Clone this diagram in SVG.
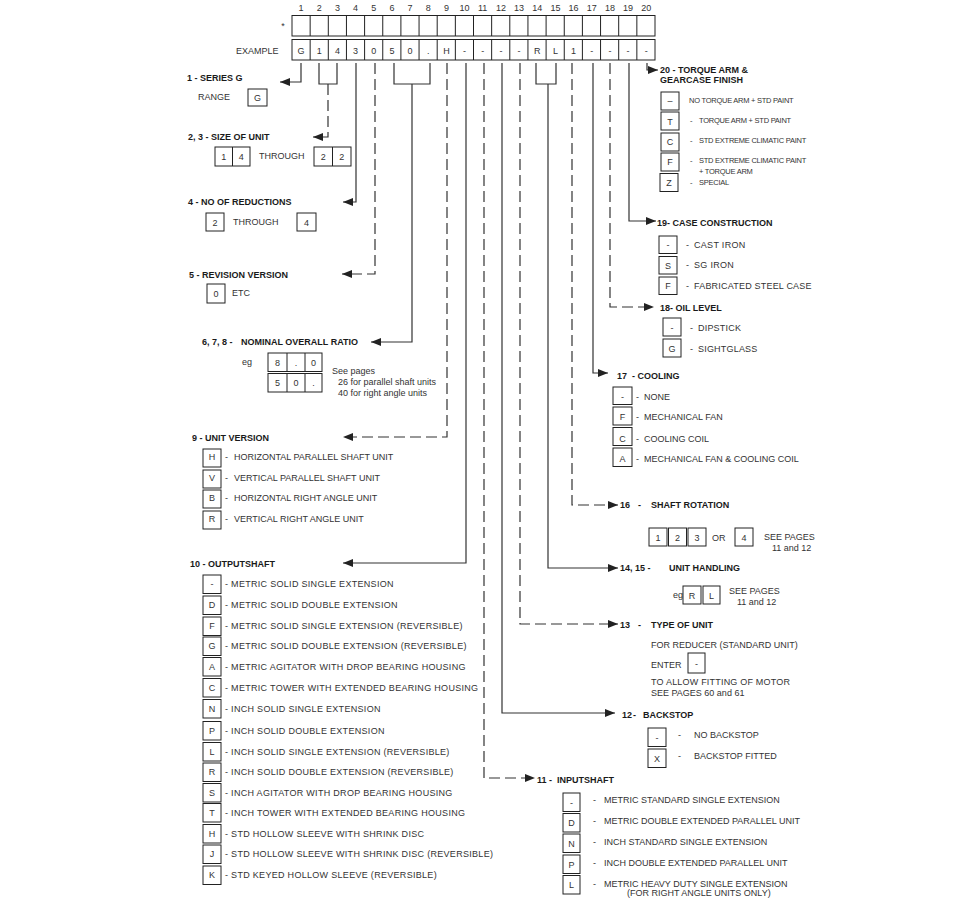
<svg xmlns="http://www.w3.org/2000/svg" width="960" height="908" viewBox="0 0 960 908">
<defs>
<marker id="ah" markerWidth="10" markerHeight="8" refX="10" refY="4" orient="auto" markerUnits="userSpaceOnUse"><path d="M0,0 L10,4 L0,8 z" fill="#222"/></marker>
<style>
text{font-family:"Liberation Sans",Arial,sans-serif;font-size:9px;fill:#333}
.h{font-weight:bold;fill:#1a1a1a}
.c{text-anchor:middle}
.sm{font-size:7.5px;letter-spacing:-0.25px}
.w{letter-spacing:0.3px}
.w2{letter-spacing:0.2px}
.bx{fill:none;stroke:#222;stroke-width:1}
.ln{fill:none;stroke:#333;stroke-width:1.2}
.d{stroke-dasharray:11 5}
.ar{marker-end:url(#ah)}
</style>
</defs>
<rect width="960" height="908" fill="#fff"/>

<g id="header">
<g class="c">
<text x="301" y="11">1</text><text x="319.2" y="11">2</text><text x="337.4" y="11">3</text><text x="355.5" y="11">4</text><text x="373.7" y="11">5</text><text x="391.9" y="11">6</text><text x="410" y="11">7</text><text x="428.2" y="11">8</text><text x="446.4" y="11">9</text><text x="464.5" y="11">10</text><text x="482.7" y="11">11</text><text x="500.9" y="11">12</text><text x="519" y="11">13</text><text x="537.2" y="11">14</text><text x="555.4" y="11">15</text><text x="573.5" y="11">16</text><text x="591.7" y="11">17</text><text x="609.9" y="11">18</text><text x="628" y="11">19</text><text x="646.2" y="11">20</text>
</g>
<text x="283" y="29" class="c">*</text>
<text x="236" y="53.5">EXAMPLE</text>
<rect class="bx" x="292" y="15.5" width="363" height="20.5"/>
<rect class="bx" x="292" y="39.5" width="363" height="20.5"/>
<path class="bx" d="M310.15,15.5V36M328.3,15.5V36M346.45,15.5V36M364.6,15.5V36M382.75,15.5V36M400.9,15.5V36M419.05,15.5V36M437.2,15.5V36M455.35,15.5V36M473.5,15.5V36M491.65,15.5V36M509.8,15.5V36M527.95,15.5V36M546.1,15.5V36M564.25,15.5V36M582.4,15.5V36M600.55,15.5V36M618.7,15.5V36M636.85,15.5V36"/>
<path class="bx" d="M310.15,39.5V60M328.3,39.5V60M346.45,39.5V60M364.6,39.5V60M382.75,39.5V60M400.9,39.5V60M419.05,39.5V60M437.2,39.5V60M455.35,39.5V60M473.5,39.5V60M491.65,39.5V60M509.8,39.5V60M527.95,39.5V60M546.1,39.5V60M564.25,39.5V60M582.4,39.5V60M600.55,39.5V60M618.7,39.5V60M636.85,39.5V60"/>
<g class="c">
<text x="301" y="53.5">G</text><text x="319.2" y="53.5">1</text><text x="337.4" y="53.5">4</text><text x="355.5" y="53.5">3</text><text x="373.7" y="53.5">0</text><text x="391.9" y="53.5">5</text><text x="410" y="53.5">0</text><text x="428.2" y="53.5">.</text><text x="446.4" y="53.5">H</text><text x="464.5" y="53.5">-</text><text x="482.7" y="53.5">-</text><text x="500.9" y="53.5">-</text><text x="519" y="53.5">-</text><text x="537.2" y="53.5">R</text><text x="555.4" y="53.5">L</text><text x="573.5" y="53.5">1</text><text x="591.7" y="53.5">-</text><text x="609.9" y="53.5">-</text><text x="628" y="53.5">-</text><text x="646.2" y="53.5">-</text>
</g>
</g>

<g id="connectors">
<polyline class="ln ar" points="301,63 301,82 280,82"/>
<polyline class="ln" points="319,63 319,84 337,84 337,63"/>
<polyline class="ln d ar" points="328,84 328,137 313,137"/>
<polyline class="ln ar" points="356,63 356,202 343,202"/>
<polyline class="ln d ar" points="375,63 375,274 342,274"/>
<polyline class="ln" points="394,63 394,84 430,84 430,63"/>
<polyline class="ln ar" points="412,84 412,342 371,342"/>
<polyline class="ln d ar" points="447,63 447,437 343,437"/>
<polyline class="ln ar" points="466,63 466,563 343,563"/>
<polyline class="ln d ar" points="484,63 484,778 535,778"/>
<polyline class="ln ar" points="502,63 502,713 615,713"/>
<polyline class="ln d ar" points="520,63 520,624 618,624"/>
<polyline class="ln" points="536,63 536,84 556,84 556,63"/>
<polyline class="ln ar" points="548,84 548,568 618,568"/>
<polyline class="ln d ar" points="572,63 572,505 618,505"/>
<polyline class="ln ar" points="593,63 593,373 608,373"/>
<polyline class="ln d ar" points="610,63 610,307 654,307"/>
<polyline class="ln ar" points="629,63 629,221 656,221"/>
<polyline class="ln ar" points="647,63 647,70 658,70"/>
</g>

<g id="n1">
<text class="h" x="187" y="80.5">1 - SERIES G</text>
<text x="198" y="99.5">RANGE</text>
<rect class="bx" x="248" y="89" width="19" height="17"/>
<text class="c" x="257.5" y="100.5">G</text>
</g>

<g id="n2">
<text class="h" x="188" y="140">2, 3 - SIZE OF UNIT</text>
<rect class="bx" x="215" y="147" width="35" height="19"/><path class="bx" d="M232.5,147V166"/>
<text class="c" x="223.7" y="159.5">1</text><text class="c" x="241.2" y="159.5">4</text>
<text x="259" y="159">THROUGH</text>
<rect class="bx" x="314" y="147" width="37" height="19"/><path class="bx" d="M332.5,147V166"/>
<text class="c" x="323.2" y="159.5">2</text><text class="c" x="341.7" y="159.5">2</text>
</g>

<g id="n4">
<text class="h" x="188" y="204.5">4 - NO OF REDUCTIONS</text>
<rect class="bx" x="206" y="213" width="18" height="18"/><text class="c" x="215" y="225.5">2</text>
<text x="233" y="225">THROUGH</text>
<rect class="bx" x="297" y="213" width="19" height="18"/><text class="c" x="306.5" y="225.5">4</text>
</g>

<g id="n5">
<text class="h" x="189" y="277.5">5 - REVISION VERSION</text>
<rect class="bx" x="207" y="284" width="18" height="19"/><text class="c" x="216" y="296.5">0</text>
<text x="232" y="296">ETC</text>
</g>

<g id="n6">
<text class="h" x="202" y="344.5">6, 7, 8 -</text>
<text class="h" x="241" y="344.5">NOMINAL OVERALL RATIO</text>
<text x="242" y="365">eg</text>
<rect class="bx" x="268" y="353" width="54" height="18.5"/>
<rect class="bx" x="268" y="373.5" width="54" height="18.5"/>
<path class="bx" d="M287,353V371.5M305,353V371.5M287,373.5V392M305,373.5V392"/>
<text class="c" x="277.5" y="365.5">8</text><text class="c" x="296" y="365.5">.</text><text class="c" x="313.5" y="365.5">0</text>
<text class="c" x="277.5" y="386">5</text><text class="c" x="296" y="386">0</text><text class="c" x="313.5" y="386">.</text>
<text x="332" y="373.5">See pages</text>
<text x="338" y="384.5">26 for parallel shaft units</text>
<text x="338" y="396">40 for right angle units</text>
</g>

<g id="n9">
<text class="h" x="192" y="441">9 - UNIT VERSION</text>
<rect class="bx" x="203" y="449" width="18" height="18"/><text class="c" x="212" y="459.5">H</text><text x="225" y="459.5">-</text><text x="234" y="459.5">HORIZONTAL PARALLEL SHAFT UNIT</text>
<rect class="bx" x="203" y="470" width="18" height="18"/><text class="c" x="212" y="480.5">V</text><text x="225" y="480.5">-</text><text x="234" y="480.5">VERTICAL PARALLEL SHAFT UNIT</text>
<rect class="bx" x="203" y="490" width="18" height="18"/><text class="c" x="212" y="501">B</text><text x="225" y="501">-</text><text x="234" y="501">HORIZONTAL RIGHT ANGLE UNIT</text>
<rect class="bx" x="203" y="511" width="18" height="18"/><text class="c" x="212" y="521.5">R</text><text x="225" y="521.5">-</text><text x="234" y="521.5">VERTICAL RIGHT ANGLE UNIT</text>
</g>

<g id="n10">
<text class="h" x="190" y="566.7">10 - OUTPUTSHAFT</text>
<rect class="bx" x="203" y="575" width="18" height="18.5"/><text class="c" x="212" y="587.3">-</text><text class="w" x="225" y="587.3">- METRIC SOLID SINGLE EXTENSION</text>
<rect class="bx" x="203" y="596" width="18" height="18.5"/><text class="c" x="212" y="608.3">D</text><text class="w" x="225" y="608.3">- METRIC SOLID DOUBLE EXTENSION</text>
<rect class="bx" x="203" y="617" width="18" height="18.5"/><text class="c" x="212" y="629.3">F</text><text class="w" x="225" y="629.3">- METRIC SOLID SINGLE EXTENSION (REVERSIBLE)</text>
<rect class="bx" x="203" y="637" width="18" height="18.5"/><text class="c" x="212" y="649.3">G</text><text class="w" x="225" y="649.3">- METRIC SOLID DOUBLE EXTENSION (REVERSIBLE)</text>
<rect class="bx" x="203" y="657.5" width="18" height="18.5"/><text class="c" x="212" y="669.8">A</text><text class="w" x="225" y="669.8">- METRIC AGITATOR WITH DROP BEARING HOUSING</text>
<rect class="bx" x="203" y="678.5" width="18" height="18.5"/><text class="c" x="212" y="690.8">C</text><text class="w" x="225" y="690.8">- METRIC TOWER WITH EXTENDED BEARING HOUSING</text>
<rect class="bx" x="203" y="699.5" width="18" height="18.5"/><text class="c" x="212" y="711.8">N</text><text class="w" x="225" y="711.8">- INCH SOLID SINGLE EXTENSION</text>
<rect class="bx" x="203" y="721.5" width="18" height="18.5"/><text class="c" x="212" y="733.8">P</text><text class="w" x="225" y="733.8">- INCH SOLID DOUBLE EXTENSION</text>
<rect class="bx" x="203" y="742.5" width="18" height="18.5"/><text class="c" x="212" y="754.8">L</text><text class="w" x="225" y="754.8">- INCH SOLID SINGLE EXTENSION (REVERSIBLE)</text>
<rect class="bx" x="203" y="763" width="18" height="18.5"/><text class="c" x="212" y="775.3">R</text><text class="w" x="225" y="775.3">- INCH SOLID DOUBLE EXTENSION (REVERSIBLE)</text>
<rect class="bx" x="203" y="783.5" width="18" height="18.5"/><text class="c" x="212" y="795.8">S</text><text class="w" x="225" y="795.8">- INCH AGITATOR WITH DROP BEARING HOUSING</text>
<rect class="bx" x="203" y="803.5" width="18" height="18.5"/><text class="c" x="212" y="815.8">T</text><text class="w" x="225" y="815.8">- INCH TOWER WITH EXTENDED BEARING HOUSING</text>
<rect class="bx" x="203" y="824.5" width="18" height="18.5"/><text class="c" x="212" y="836.8">H</text><text class="w" x="225" y="836.8">- STD HOLLOW SLEEVE WITH SHRINK DISC</text>
<rect class="bx" x="203" y="845" width="18" height="18.5"/><text class="c" x="212" y="857.3">J</text><text class="w" x="225" y="857.3">- STD HOLLOW SLEEVE WITH SHRINK DISC (REVERSIBLE)</text>
<rect class="bx" x="203" y="866" width="18" height="18.5"/><text class="c" x="212" y="878.3">K</text><text class="w" x="225" y="878.3">- STD KEYED HOLLOW SLEEVE (REVERSIBLE)</text>
</g>

<g id="n20">
<text class="h" x="660" y="72.5">20 - TORQUE ARM &amp;</text>
<text class="h" x="660" y="82.5">GEARCASE FINISH</text>
<rect class="bx" x="661" y="92" width="18" height="18"/><text class="c" x="670" y="104">–</text><text class="sm" x="689" y="103">NO TORQUE ARM + STD PAINT</text>
<rect class="bx" x="661" y="112" width="18" height="18"/><text class="c" x="670" y="124.5">T</text><text class="sm" x="690" y="123">-</text><text class="sm" x="699" y="123">TORQUE ARM + STD PAINT</text>
<rect class="bx" x="661" y="133" width="18" height="18"/><text class="c" x="670" y="145">C</text><text class="sm" x="690" y="143">-</text><text class="sm" x="699" y="143">STD EXTREME CLIMATIC PAINT</text>
<rect class="bx" x="661" y="153" width="18" height="18"/><text class="c" x="670" y="165">F</text><text class="sm" x="690" y="163">-</text><text class="sm" x="699" y="163">STD EXTREME CLIMATIC PAINT</text><text class="sm" x="699" y="174">+ TORQUE ARM</text>
<rect class="bx" x="660" y="173.5" width="18" height="18"/><text class="c" x="669" y="186">Z</text><text class="sm" x="690" y="185">-</text><text class="sm" x="699" y="185">SPECIAL</text>
</g>

<g id="n19">
<text class="h" x="657" y="226">19- CASE CONSTRUCTION</text>
<rect class="bx" x="659" y="236" width="18" height="17.5"/><text class="c" x="668" y="248">-</text><text x="686" y="247.5">-</text><text class="w" x="694" y="247.5">CAST IRON</text>
<rect class="bx" x="659" y="256.5" width="18" height="17.5"/><text class="c" x="668" y="268.5">S</text><text x="686" y="268">-</text><text class="w" x="694" y="268">SG IRON</text>
<rect class="bx" x="659" y="277" width="18" height="17.5"/><text class="c" x="668" y="289">F</text><text x="686" y="288.5">-</text><text class="w2" x="694" y="288.5">FABRICATED STEEL CASE</text>
</g>

<g id="n18">
<text class="h" x="660" y="310.5">18- OIL LEVEL</text>
<rect class="bx" x="663" y="318" width="18" height="18"/><text class="c" x="672" y="330.5">-</text><text x="690" y="331">-</text><text class="w2" x="698" y="331">DIPSTICK</text>
<rect class="bx" x="663" y="339" width="18" height="18"/><text class="c" x="672" y="351.5">G</text><text x="690" y="351.5">-</text><text class="w2" x="698" y="351.5">SIGHTGLASS</text>
</g>

<g id="n17">
<text class="h" x="617" y="378.5">17</text><text class="h" x="632" y="378.5">- COOLING</text>
<rect class="bx" x="613" y="387" width="19" height="17.5"/><text class="c" x="622.5" y="399.5">-</text><text x="636" y="399.5">-</text><text x="644" y="399.5">NONE</text>
<rect class="bx" x="613" y="407" width="19" height="18"/><text class="c" x="622.5" y="420">F</text><text x="636" y="420">-</text><text x="644" y="420">MECHANICAL FAN</text>
<rect class="bx" x="613" y="427.5" width="19" height="18"/><text class="c" x="622.5" y="441.5">C</text><text x="636" y="441.5">-</text><text x="644" y="441.5">COOLING COIL</text>
<rect class="bx" x="613" y="448" width="19" height="18.5"/><text class="c" x="622.5" y="462">A</text><text x="636" y="462">-</text><text x="644" y="462">MECHANICAL FAN &amp; COOLING COIL</text>
</g>

<g id="n16">
<text class="h" x="620" y="508">16</text><text class="h" x="638" y="508">-</text><text class="h" x="651" y="508">SHAFT ROTATION</text>
<rect class="bx" x="649" y="528" width="18" height="18"/><text class="c" x="658" y="541">1</text>
<rect class="bx" x="668.5" y="528" width="18" height="18"/><text class="c" x="677.5" y="541">2</text>
<rect class="bx" x="688" y="528" width="18" height="18"/><text class="c" x="697" y="541">3</text>
<text x="712" y="541">OR</text>
<rect class="bx" x="735" y="528" width="18" height="18"/><text class="c" x="744" y="541">4</text>
<text x="764" y="540">SEE  PAGES</text>
<text x="772" y="551">11 and 12</text>
</g>

<g id="n14">
<text class="h" x="620" y="571">14, 15  -</text><text class="h" x="669" y="571">UNIT HANDLING</text>
<text x="673" y="598">eg</text>
<rect class="bx" x="683" y="586" width="18" height="18"/><text class="c" x="692" y="598.5">R</text>
<rect class="bx" x="703" y="586" width="17" height="18"/><text class="c" x="711.5" y="598.5">L</text>
<text x="729" y="594">SEE  PAGES</text>
<text x="737" y="605">11 and 12</text>
</g>

<g id="n13">
<text class="h" x="620" y="627.7">13</text><text class="h" x="638" y="627.7">-</text><text class="h" x="651" y="627.7">TYPE OF UNIT</text>
<text x="651" y="647.7">FOR REDUCER (STANDARD UNIT)</text>
<text x="651" y="667.5">ENTER</text>
<rect class="bx" x="688" y="653" width="17" height="20"/><text class="c" x="696.5" y="666.5">-</text>
<text class="w2" x="651" y="685">TO ALLOW  FITTING  OF  MOTOR</text>
<text x="651" y="695.5">SEE  PAGES 60 and 61</text>
</g>

<g id="n12">
<text class="h" x="622" y="717.5">12</text><text class="h" x="633" y="717.5">-</text><text class="h" x="643" y="717.5">BACKSTOP</text>
<rect class="bx" x="648" y="728" width="18" height="18.5"/><text class="c" x="657" y="740.5">-</text><text x="678" y="738.3">-</text><text x="694" y="738.3">NO BACKSTOP</text>
<rect class="bx" x="648" y="749" width="18" height="18.5"/><text class="c" x="657" y="761.5">X</text><text x="678" y="759">-</text><text x="694" y="759">BACKSTOP FITTED</text>
</g>

<g id="n11">
<text class="h" x="537" y="783">11</text><text class="h" x="549" y="783">-</text><text class="h" x="557" y="783">INPUTSHAFT</text>
<rect class="bx" x="563" y="793" width="17" height="18.5"/><text class="c" x="571.5" y="805.5">-</text><text x="593" y="803.3">-</text><text x="604" y="803.3">METRIC STANDARD SINGLE EXTENSION</text>
<rect class="bx" x="563" y="813.5" width="17" height="18.5"/><text class="c" x="571.5" y="826">D</text><text x="593" y="824.3">-</text><text x="604" y="824.3">METRIC  DOUBLE EXTENDED PARALLEL UNIT</text>
<rect class="bx" x="563" y="834" width="17" height="18.5"/><text class="c" x="571.5" y="846.5">N</text><text x="593" y="845">-</text><text x="604" y="845">INCH  STANDARD SINGLE EXTENSION</text>
<rect class="bx" x="563" y="855" width="17" height="18.5"/><text class="c" x="571.5" y="867.5">P</text><text x="593" y="866">-</text><text x="604" y="866">INCH  DOUBLE EXTENDED PARALLEL UNIT</text>
<rect class="bx" x="563" y="875.5" width="17" height="18.5"/><text class="c" x="571.5" y="888">L</text><text x="593" y="886.5">-</text><text x="604" y="886.5">METRIC HEAVY DUTY SINGLE EXTENSION</text>
<text x="627" y="895.5">(FOR RIGHT ANGLE UNITS ONLY)</text>
</g>
</svg>
